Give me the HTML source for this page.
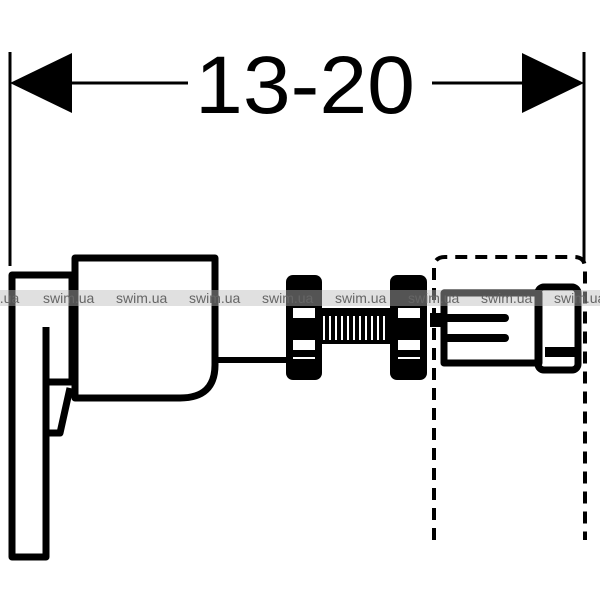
<!DOCTYPE html>
<html><head><style>html,body{margin:0;padding:0;background:#fff}svg{display:block}</style></head>
<body>
<svg width="600" height="600" viewBox="0 0 600 600" xmlns="http://www.w3.org/2000/svg">
<rect width="600" height="600" fill="#fff"/>
<!-- dimension -->
<line x1="10" y1="52" x2="10" y2="266" stroke="#000" stroke-width="3"/>
<line x1="584" y1="52" x2="584" y2="262" stroke="#000" stroke-width="3"/>
<polygon points="10,83 72,53 72,113" fill="#000"/>
<polygon points="584,83 522,53 522,113" fill="#000"/>
<line x1="70" y1="83" x2="188" y2="83" stroke="#000" stroke-width="3"/>
<line x1="432" y1="83" x2="524" y2="83" stroke="#000" stroke-width="3"/>
<text x="195" y="113" font-family="Liberation Sans, sans-serif" font-size="82" fill="#000" textLength="220" lengthAdjust="spacingAndGlyphs">13-20</text>
<!-- left bracket -->
<g fill="none" stroke="#000" stroke-width="7" stroke-linejoin="round">
<path d="M12,275 L72,275 L72,382 L46,382 L46,557 L12,557 Z"/>
<line x1="46" y1="327" x2="46" y2="382"/>
<path d="M70,388 L60,433 L48,433"/>
<!-- box -->
<path d="M75,258 L215,258 L215,365 Q215,398 180,398 L75,398 Z"/>
<!-- pipe -->
<line x1="218" y1="360" x2="290" y2="360" stroke-width="6"/>
</g>
<!-- nuts -->
<g fill="#000">
<rect x="286" y="275" width="36" height="105" rx="7"/>
<rect x="390" y="275" width="37" height="105" rx="7"/>
<rect x="318" y="308" width="74" height="36"/>
</g>
<g fill="#fff">
<rect x="293" y="308" width="22" height="10"/><rect x="293" y="340" width="22" height="10"/>
<rect x="398" y="308" width="22" height="10"/><rect x="398" y="340" width="22" height="10"/>
<rect x="293" y="357" width="22" height="2"/><rect x="398" y="357" width="22" height="2"/>
</g>
<g stroke="#fff" stroke-width="2">
<line x1="324" y1="316" x2="324" y2="340"/><line x1="330" y1="316" x2="330" y2="340"/><line x1="336" y1="316" x2="336" y2="340"/><line x1="342" y1="316" x2="342" y2="340"/><line x1="348" y1="316" x2="348" y2="340"/><line x1="354" y1="316" x2="354" y2="340"/><line x1="360" y1="316" x2="360" y2="340"/><line x1="366" y1="316" x2="366" y2="340"/><line x1="372" y1="316" x2="372" y2="340"/><line x1="378" y1="316" x2="378" y2="340"/><line x1="384" y1="316" x2="384" y2="340"/>
</g>
<!-- fitting -->
<g fill="none" stroke="#000" stroke-linejoin="round">
<rect x="444" y="293" width="95" height="70" stroke-width="7"/>
<rect x="538" y="287" width="40" height="83" rx="6" stroke-width="7"/>
<line x1="448" y1="318" x2="505" y2="318" stroke-width="8" stroke-linecap="round"/>
<line x1="448" y1="338" x2="505" y2="338" stroke-width="8" stroke-linecap="round"/>
<line x1="545" y1="352" x2="575" y2="352" stroke-width="10"/>
<line x1="430" y1="320" x2="444" y2="320" stroke-width="14"/>
<!-- dashed box -->
<path d="M434,540 L434,268 Q434,257 445,257 L574,257 Q585,257 585,268 L585,540" stroke-width="4" stroke-dasharray="12,8"/>
</g>
<!-- watermark -->
<rect x="0" y="290" width="600" height="16" fill="#bbb" opacity="0.45"/>
<g font-family="Liberation Sans, sans-serif" font-size="14" fill="#666">
<text x="-8" y="303">n.ua</text>
<text x="43" y="303">swim.ua</text>
<text x="116" y="303">swim.ua</text>
<text x="189" y="303">swim.ua</text>
<text x="262" y="303">swim.ua</text>
<text x="335" y="303">swim.ua</text>
<text x="408" y="303">swim.ua</text>
<text x="481" y="303">swim.ua</text>
<text x="554" y="303">swim.ua</text>
</g>
</svg>
</body></html>
